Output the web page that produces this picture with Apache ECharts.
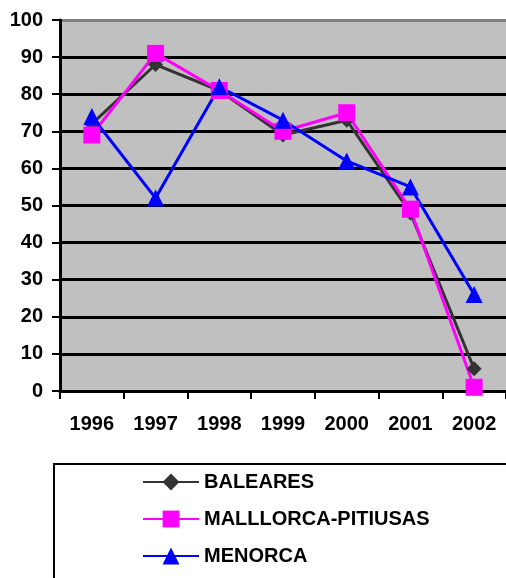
<!DOCTYPE html>
<html>
<head>
<meta charset="utf-8">
<script src="https://cdn.jsdelivr.net/npm/echarts@6/dist/echarts.min.js"></script>
<style>
html,body{margin:0;padding:0;background:#fff;}
#c{width:506px;height:578px;}
</style>
</head>
<body>
<div id="c"></div>
<script>
const years = ['1996','1997','1998','1999','2000','2001','2002'];
const baleares = [72, 88, 81, 69, 73, 48, 6];
const mallorca = [69, 91, 81, 70, 75, 49, 1];
const menorca = [74, 52, 82, 73, 62, 55, 26];
const yTicks = [0, 10, 20, 30, 40, 50, 60, 70, 80, 90, 100];

const font = '"Liberation Sans", Arial, sans-serif';
const chart = echarts.init(document.getElementById('c'));
const gridColors = yTicks.map((v, i) => i === yTicks.length - 1 ? '#808080' : '#000000');
chart.setOption({
  animation: false,
  backgroundColor: '#ffffff',
  grid: { left: 60, top: 20, right: -2, bottom: 187, containLabel: false,
          show: true, backgroundColor: '#c0c0c0', borderWidth: 0 },
  xAxis: {
    type: 'category', data: years, boundaryGap: true,
    axisLine: { lineStyle: { color: '#000', width: 3 } },
    axisTick: { show: true, length: 8, lineStyle: { color: '#000', width: 2 } },
    axisLabel: { color: '#000', fontFamily: font, fontWeight: 'bold', fontSize: 20, margin: 23 },
    splitLine: { show: false }
  },
  yAxis: {
    type: 'value', min: 0, max: 100, interval: 10,
    axisLine: { show: true, lineStyle: { color: '#000', width: 3 } },
    axisTick: { show: true, length: 8, lineStyle: { color: '#000', width: 2 } },
    axisLabel: { color: '#000', fontFamily: font, fontWeight: 'bold', fontSize: 20, margin: 17,
                 formatter: v => yTicks.includes(v) ? String(v) : '' },
    splitLine: { show: true, lineStyle: { color: gridColors, width: 3 } }
  },
  legend: {
    orient: 'vertical', left: 137, top: 467,
    itemWidth: 56, itemHeight: 21, itemGap: 17,
    textStyle: { color: '#000', fontFamily: font, fontWeight: 'bold', fontSize: 20 },
    data: ['BALEARES', 'MALLLORCA-PITIUSAS', 'MENORCA']
  },
  graphic: [{
    type: 'rect', shape: { x: 54, y: 464, width: 480, height: 140 },
    style: { fill: 'none', stroke: '#000', lineWidth: 2 }, z: 0
  }],
  series: [
    { name: 'BALEARES', type: 'line', data: baleares, symbol: 'diamond', symbolSize: 15,
      itemStyle: { color: '#333333' }, lineStyle: { color: '#333333', width: 3 } },
    { name: 'MALLLORCA-PITIUSAS', type: 'line', data: mallorca, symbol: 'rect', symbolSize: 17,
      itemStyle: { color: '#ff00ff' }, lineStyle: { color: '#ff00ff', width: 3 } },
    { name: 'MENORCA', type: 'line', data: menorca, symbol: 'triangle', symbolSize: 17,
      itemStyle: { color: '#0000ff' }, lineStyle: { color: '#0000ff', width: 3 } }
  ]
});
</script>
</body>
</html>
